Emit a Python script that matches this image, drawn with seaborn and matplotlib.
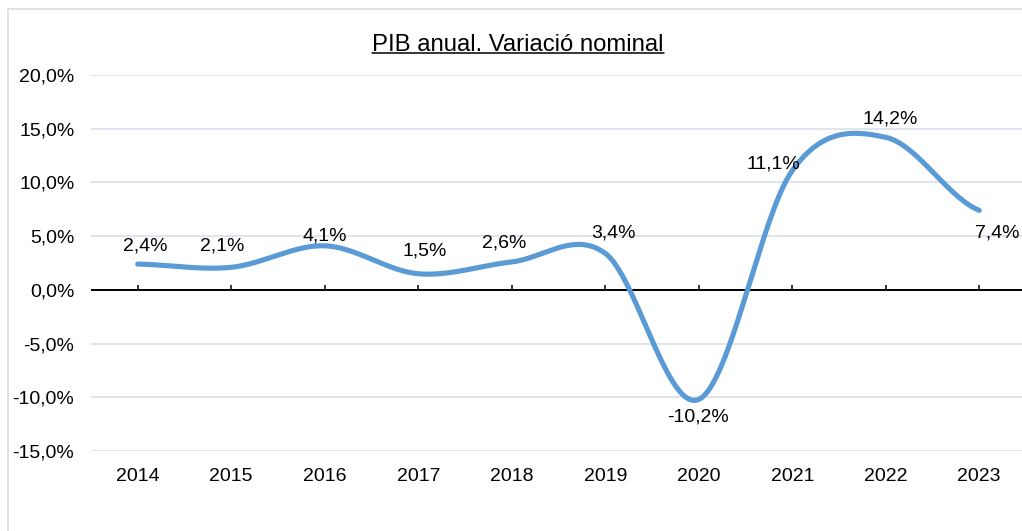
import numpy as np
import pandas as pd
import matplotlib
matplotlib.use("Agg")
import matplotlib.pyplot as plt
import seaborn as sns
from matplotlib.ticker import FuncFormatter, FixedLocator
from matplotlib.patches import Rectangle
from matplotlib.lines import Line2D

# ---- data ----
years = ["2014", "2015", "2016", "2017", "2018", "2019", "2020", "2021", "2022", "2023"]
variation = [2.4, 2.1, 4.1, 1.5, 2.6, 3.4, -10.2, 11.1, 14.2, 7.4]
title = "PIB anual. Variació nominal"
y_ticks = [-15, -10, -5, 0, 5, 10, 15, 20]

# label offsets in pixels (style only)
label_offsets = [(7, 18), (-9, 21), (0, 10), (6, 23), (-8, 19), (8, 20),
                 (-1, -18), (-19, 7), (4, 18), (18, -23)]

sns.set_style("white")
plt.rcParams["font.family"] = ["Liberation Sans", "DejaVu Sans"]

W, H = 1022, 531
fig = plt.figure(figsize=(W / 100, H / 100), dpi=100)
ax = fig.add_axes([91 / W, 80 / H, 935 / W, 376 / H])

# Excel-like smoothing (Catmull-Rom / cubic Hermite) of the data for drawing
def smooth(vals, n=60):
    p = np.asarray(vals, dtype=float)
    k = len(p)
    m = np.empty(k)
    m[1:-1] = (p[2:] - p[:-2]) / 2
    m[0] = (p[1] - p[0]) / 2
    m[-1] = (p[-1] - p[-2]) / 2
    xs, ys = [], []
    for i in range(k - 1):
        t = np.linspace(0, 1, n, endpoint=(i == k - 2))
        h00 = 2 * t**3 - 3 * t**2 + 1
        h10 = t**3 - 2 * t**2 + t
        h01 = -2 * t**3 + 3 * t**2
        h11 = t**3 - t**2
        xs.append(i + t)
        ys.append(h00 * p[i] + h10 * m[i] + h01 * p[i + 1] + h11 * m[i + 1])
    return np.concatenate(xs), np.concatenate(ys)

sx, sy = smooth(variation)
curve = pd.DataFrame({"x": sx, "y": sy})
sns.lineplot(data=curve, x="x", y="y", ax=ax, color="#5B9BD5", linewidth=3.7,
             solid_capstyle="round", sort=False, zorder=4)

ax.set_xlim(-0.5, len(years) - 0.5)
ax.set_ylim(min(y_ticks), max(y_ticks))

# grid
ax.yaxis.set_major_locator(FixedLocator(y_ticks))
ax.yaxis.set_major_formatter(FuncFormatter(lambda v, _: f"{v:.1f}%".replace(".", ",")))
ax.grid(axis="y", color="#DDE2EA", linewidth=1.3)
ax.grid(axis="x", visible=False)
ax.set_axisbelow(True)
for s in ax.spines.values():
    s.set_visible(False)

ax.set_xticks(range(len(years)))
ax.set_xticklabels(years)
ax.tick_params(axis="x", length=0, pad=12.5, labelsize=14, colors="black")
ax.tick_params(axis="y", length=0, pad=12, labelsize=14, colors="black")
ax.set_xlabel("")
ax.set_ylabel("")

# zero axis line with tick marks
ax.axhline(0, color="black", linewidth=1.4, zorder=2)
zero_frac = (0 - min(y_ticks)) / (max(y_ticks) - min(y_ticks))
sec = ax.secondary_xaxis(zero_frac)
sec.set_xticks(range(len(years)))
sec.xaxis.set_ticks_position("bottom")
sec.tick_params(axis="x", direction="in", length=3.5, width=1.1, color="black",
                labelbottom=False, labeltop=False)
for s in sec.spines.values():
    s.set_visible(False)

# data labels
for i, (v, off) in enumerate(zip(variation, label_offsets)):
    ax.annotate(f"{v:.1f}%".replace(".", ","), xy=(i, v), xytext=off,
                textcoords="offset pixels", ha="center", va="center",
                fontsize=14, color="black", zorder=5)

# title with underline
t = fig.text(518 / W, 1 - 50.7 / H, title, ha="center", va="baseline", fontsize=17.2, color="black")

# chart border
fig.patches.append(Rectangle((7.5 / W, -0.1), 1.2, 1 - 9 / H + 0.1, transform=fig.transFigure,
                             fill=False, edgecolor="#D9DDE3", linewidth=1.2))

fig.canvas.draw()
bb = t.get_window_extent(renderer=fig.canvas.get_renderer())
uy = 1 - 52.8 / H
fig.lines.append(Line2D([bb.x0 / W, bb.x1 / W], [uy, uy], transform=fig.transFigure,
                        color="black", linewidth=1.1))

fig.savefig("out.png", dpi=100)
